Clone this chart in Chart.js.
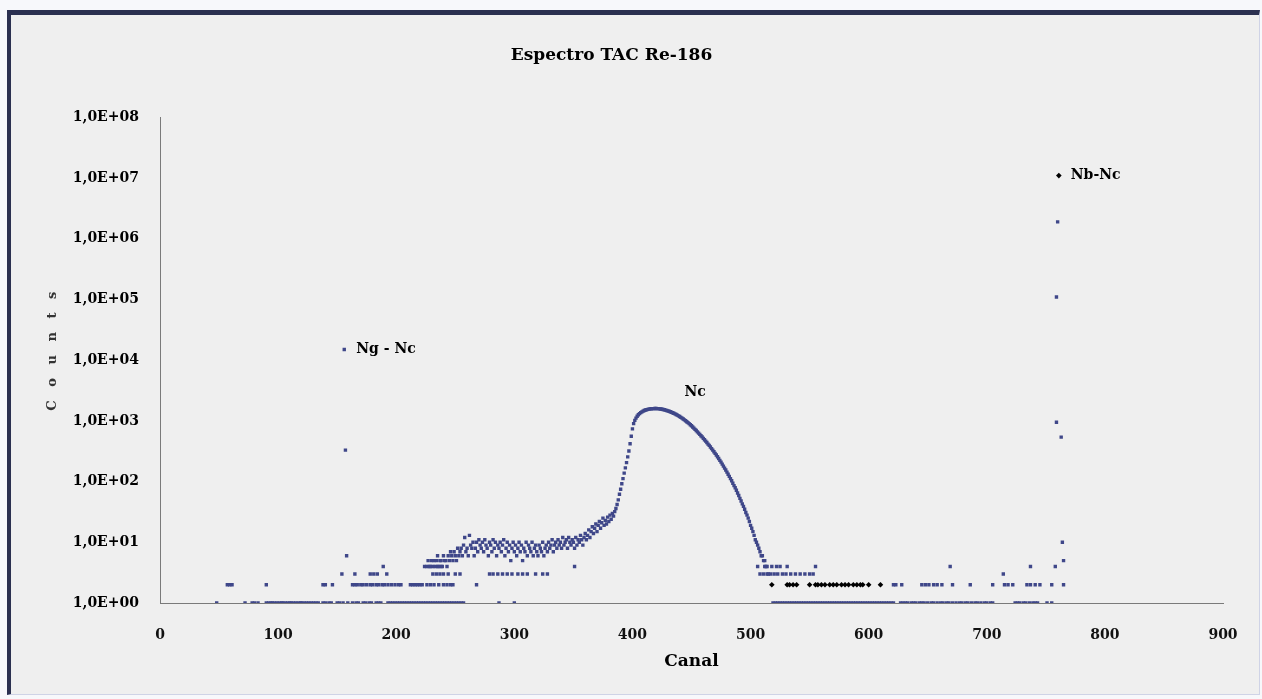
<!DOCTYPE html>
<html><head><meta charset="utf-8">
<script src="https://cdn.jsdelivr.net/npm/chart.js@4.4.0/dist/chart.umd.min.js"></script>
<style>
html,body{margin:0;padding:0;background:#f7f8fb;width:1262px;height:699px;overflow:hidden;}
#frame{position:absolute;left:7px;top:10px;width:1248px;height:679px;background:#efefef;border-left:4px solid #2b3050;border-top:5px solid #2b3050;border-right:1px solid #cfd3e6;border-bottom:1px solid #cfd3e6;}
#wrap{position:absolute;left:0;top:0;width:1262px;height:699px;}
</style></head><body>
<div id="frame"></div>
<div id="wrap"><canvas id="c"></canvas></div>
<script>
// ---- data ----
const chartTitle = 'Espectro TAC Re-186';
const xTitle = 'Canal';
const yTitle = '    C   o   u   n   t   s';
const xTicks = [0, 100, 200, 300, 400, 500, 600, 700, 800, 900];
const yTickValues = [1, 10, 100, 1000, 10000, 100000, 1000000, 10000000, 100000000];
const yTickLabels = ['1,0E+00','1,0E+01','1,0E+02','1,0E+03','1,0E+04','1,0E+05','1,0E+06','1,0E+07','1,0E+08'];

// channels with 1 count
const ones = [48,72,78,80,83,90,92,94,95,97,99,101,103,104,106,108,110,111,113,115,117,119,120,122,124,126,128,130,132,134,138,140,143,145,150,152,155,159,163,166,168,172,174,177,179,183,185,187,193,195,197,199,201,203,205,207,209,211,213,215,217,219,221,223,225,227,229,231,233,235,237,239,241,243,245,247,249,251,253,255,257,287,300,
519,521,523,525,527,529,531,533,535,537,539,541,543,545,547,549,551,553,555,557,559,561,563,565,567,569,571,573,575,577,579,581,583,585,587,589,591,593,595,597,599,601,603,605,607,609,611,613,615,617,619,621,627,629,631,633,636,638,640,643,645,647,650,653,655,658,661,663,666,668,671,674,677,679,682,684,687,690,692,695,698,700,703,705,724,726,728,731,733,736,739,741,743,751,755];
// channels with 2 counts
const twos = [57,59,61,90,138,140,146,163,165,167,170,172,175,178,180,183,185,188,190,193,196,199,202,204,212,214,216,218,220,222,226,229,232,236,240,243,246,248,268,621,623,628,645,648,651,655,658,662,671,686,705,715,718,722,734,737,741,745,755,765];
// channels with 3 counts
const threes = [154,165,178,181,184,192,231,234,237,240,244,250,254,279,282,286,290,294,298,303,307,311,318,324,328,508,511,514,517,520,523,527,530,534,538,542,546,550,553,714];
// channels with 4 counts
const fours = [189,224,235,238,351,506,512,518,522,525,531,555,669,737,758];
// isolated points
const extraCh = [156, 157, 158, 759, 760, 759, 763, 764, 765];
const extraCounts = [15000, 330, 6, 110000, 1900000, 950, 540, 10, 5];

// continuum + peak (one value per channel, 226..515)
const specStart = 226;
const specCounts = [
4,5,4,4,5,4,5,4,5,6,4,5,5,4,6,5,5,4,6,5,7,6,5,7,6,5,8,6,7,8,6,9,12,7,8,6,13,9,8,10,6,8,10,7,11,9,8,10,7,11,9,8,6,10,9,7,11,8,10,6,9,8,10,7,9,11,6,8,10,7,9,5,8,10,7,9,6,8,10,7,9,5,8,7,10,6,9,8,7,10,6,8,9,7,6,9,8,7,10,6,8,9,7,10,8,9,11,7,9,10,8,11,9,10,8,12,9,10,11,8,12,10,9,11,10,8,12,9,11,10,13,11,9,12,14,11,13,16,12,15,18,14,17,20,15,19,22,17,21,25,19,23,20,26,22,28,24,30,27,
32,36,42,50,62,75,92,112,138,168,205,255,320,420,560,740,900,1020,1110,1190,1260,1320,1370,1410,1450,1480,1510,1530,1550,1565,1575,1585,1590,1595,1600,1600,1595,1590,1580,1570,1555,1540,1525,1505,1485,1465,1440,1415,1390,1365,1335,1305,1275,1245,1210,1180,1145,1110,1075,1040,1005,970,935,900,865,830,795,760,725,695,660,630,600,570,545,515,490,465,440,415,395,372,350,330,310,292,274,256,240,224,209,194,180,167,155,143,132,122,112,103,94,86,79,72,65,59,53,48,43,39,35,31,28,25,22,19,17,15,13,11,10,9,8,7,6,6,5,5,4,4,3];

// black series
const blackCh = [518,531,533,536,539,550,555,557,560,563,567,570,573,577,580,583,587,590,593,595,600,610,761];
const blackCounts = [2,2,2,2,2,2,2,2,2,2,2,2,2,2,2,2,2,2,2,2,2,2,11000000];

// annotations
const notes = ['Ng - Nc', 'Nc', 'Nb-Nc'];
const noteCh = [156, 453, 761];
const noteCounts = [15000, 3000, 11000000];

// ---- build datasets ----
const navy = [];
ones.forEach(c => navy.push({x: c, y: 1}));
twos.forEach(c => navy.push({x: c, y: 2}));
threes.forEach(c => navy.push({x: c, y: 3}));
fours.forEach(c => navy.push({x: c, y: 4}));
specCounts.forEach((v, i) => navy.push({x: specStart + i, y: v}));
extraCh.forEach((c, i) => navy.push({x: c, y: extraCounts[i]}));
const black = blackCh.map((c, i) => ({x: c, y: blackCounts[i]}));

const serif = "'DejaVu Serif', 'Liberation Serif', serif";

const notePlugin = {
  id: 'notes',
  afterDatasetsDraw(chart) {
    const {ctx, scales: {x, y}} = chart;
    ctx.save();
    ctx.font = 'bold 14px ' + serif;
    ctx.fillStyle = '#000';
    ctx.textBaseline = 'middle';
    notes.forEach((t, i) => {
      const px = x.getPixelForValue(noteCh[i]);
      const py = y.getPixelForValue(noteCounts[i]);
      if (i === 1) { ctx.textAlign = 'center'; ctx.fillText(t, px, py); }
      else { ctx.textAlign = 'left'; ctx.fillText(t, px + 12, py); }
    });
    ctx.restore();
  }
};

new Chart(document.getElementById('c'), {
  type: 'scatter',
  data: {
    datasets: [
      {data: navy, pointStyle: 'rect', pointRadius: 2.4, backgroundColor: '#3f4789', borderWidth: 0, order: 2},
      {data: black, pointStyle: 'rectRot', pointRadius: 2.8, backgroundColor: '#000', borderWidth: 0, order: 1}
    ]
  },
  options: {
    responsive: true,
    maintainAspectRatio: false,
    animation: false,
    layout: {padding: {left: 0, top: 0, right: 39, bottom: 0}},
    plugins: {
      legend: {display: false},
      tooltip: {enabled: false},
      title: {
        display: true, text: chartTitle, color: '#000',
        font: {family: serif, size: 17, weight: 'bold', lineHeight: 1.2},
        padding: {top: 45, bottom: 52}
      }
    },
    scales: {
      x: {
        type: 'linear', min: 0, max: 900,
        afterBuildTicks: s => { s.ticks = xTicks.map(v => ({value: v})); },
        afterFit: s => { s.height = 96; },
        grid: {display: false},
        border: {display: true, color: '#7a7a7a', width: 1},
        ticks: {color: '#111', font: {family: serif, size: 14, weight: 'bold'}, padding: 16, maxRotation: 0,
          callback: v => String(v)},
        title: {display: true, text: xTitle, color: '#000', font: {family: serif, size: 17, weight: 'bold'}, padding: {top: 0, bottom: 27}}
      },
      y: {
        type: 'logarithmic', min: 1, max: 100000000,
        afterBuildTicks: s => { s.ticks = yTickValues.map(v => ({value: v})); },
        afterFit: s => { s.width = 160; },
        grid: {display: false},
        border: {display: true, color: '#7a7a7a', width: 1},
        ticks: {color: '#000', font: {family: serif, size: 14, weight: 'bold'}, padding: 13, autoSkip: false,
          callback: (v) => { const i = yTickValues.indexOf(v); return i >= 0 ? yTickLabels[i] : ''; }},
        title: {display: true, text: yTitle, color: '#333', font: {family: serif, size: 13, weight: 'bold'}, padding: {top: 45, bottom: 0}}
      }
    }
  },
  plugins: [notePlugin]
});
</script>
</body></html>
